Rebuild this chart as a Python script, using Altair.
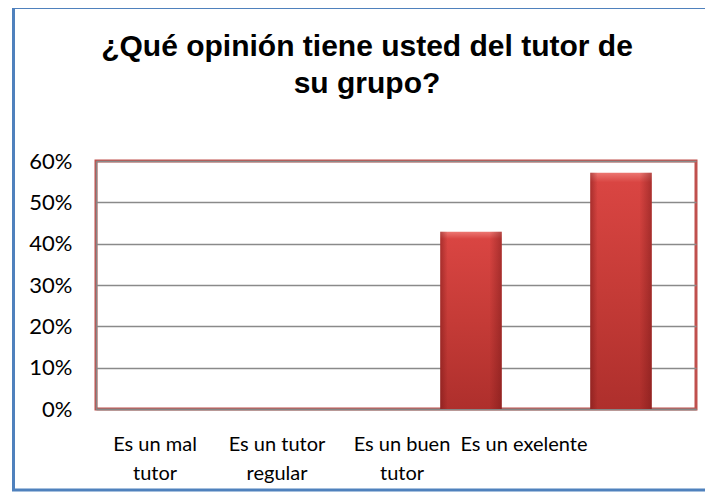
import altair as alt
import pandas as pd

categories = ["Es un mal\ntutor", "Es un tutor\nregular", "Es un buen\ntutor", "Es un exelente"]
values = [0.0, 0.0, 0.4286, 0.5714]
title_lines = ["¿Qué opinión tiene usted del tutor de", "su grupo?"]
y_ticks = [0.0, 0.1, 0.2, 0.3, 0.4, 0.5, 0.6]

df = pd.DataFrame({"cat": categories, "val": values})

base_grad = alt.Gradient(
    gradient="linear",
    stops=[
        alt.GradientStop(color="#EC7671", offset=0),
        alt.GradientStop(color="#D94542", offset=0.04),
        alt.GradientStop(color="#C53B37", offset=0.5),
        alt.GradientStop(color="#AE2F2C", offset=1),
    ],
    x1=0, x2=0, y1=0, y2=1,
)
edge_grad = alt.Gradient(
    gradient="linear",
    stops=[
        alt.GradientStop(color="rgba(110,20,20,0.45)", offset=0),
        alt.GradientStop(color="rgba(110,20,20,0.0)", offset=0.12),
        alt.GradientStop(color="rgba(110,20,20,0.0)", offset=0.8),
        alt.GradientStop(color="rgba(110,20,20,0.45)", offset=1),
    ],
    x1=0, x2=1, y1=0, y2=0,
)

label_offset = {
    "condition": [
        {"test": "indexof(datum.value, 'mal') >= 0", "value": -16},
        {"test": "indexof(datum.value, 'regular') >= 0", "value": -44},
        {"test": "indexof(datum.value, 'buen') >= 0", "value": -69},
    ],
    "value": -97,
}

x_enc = alt.X(
    "cat:N",
    sort=categories,
    scale=alt.Scale(paddingInner=0.59, paddingOuter=0.295),
    axis=alt.Axis(
        title=None,
        ticks=False,
        domain=True,
        domainColor="#868686",
        domainWidth=1.5,
        labelAngle=0,
        labelFont="Lato",
        labelFontSize=20,
        labelColor="#000000",
        labelPadding=25,
        labelLineHeight=29,
        labelExpr="split(datum.label, '\\n')",
        labelOffset=label_offset,
        labelLimit=300,
    ),
)
y_enc = alt.Y(
    "val:Q",
    scale=alt.Scale(domain=[0, 0.6], nice=False),
    axis=alt.Axis(
        title=None,
        values=y_ticks,
        format=".0%",
        ticks=False,
        domain=True,
        domainColor="#868686",
        domainWidth=1.5,
        grid=True,
        gridColor="#8A8A8A",
        gridWidth=1.5,
        labelFont="Lato",
        labelFontSize=22,
        labelColor="#000000",
        labelPadding=24,
    ),
)

frame = alt.Chart(pd.DataFrame({"k": [0]})).mark_rect(
    fill=None, stroke="#4F81BD", strokeWidth=3
).encode(
    x=alt.value(-82.5), x2=alt.value(640), y=alt.value(-153.5), y2=alt.value(329)
)

bars = alt.Chart(df).mark_bar(color=base_grad).encode(x=x_enc, y=y_enc)
shade = alt.Chart(df).mark_bar(color=edge_grad).encode(x=x_enc, y=y_enc)

chart = alt.layer(frame, bars, shade).properties(
    width=600,
    height=248,
    padding={"left": 88, "top": 153, "right": 9, "bottom": 83},
    autosize=alt.AutoSizeParams(type="none"),
    title=alt.TitleParams(
        text=title_lines,
        font="Liberation Sans",
        fontSize=30,
        fontWeight="bold",
        color="#000000",
        lineHeight=37,
        anchor="middle",
        dx=-29,
        offset=-93,
    ),
    background="#FFFFFF",
).configure_view(stroke="#C0504D", strokeWidth=3)

chart.save("out.html", embed_options={"renderer": "svg", "actions": False})
